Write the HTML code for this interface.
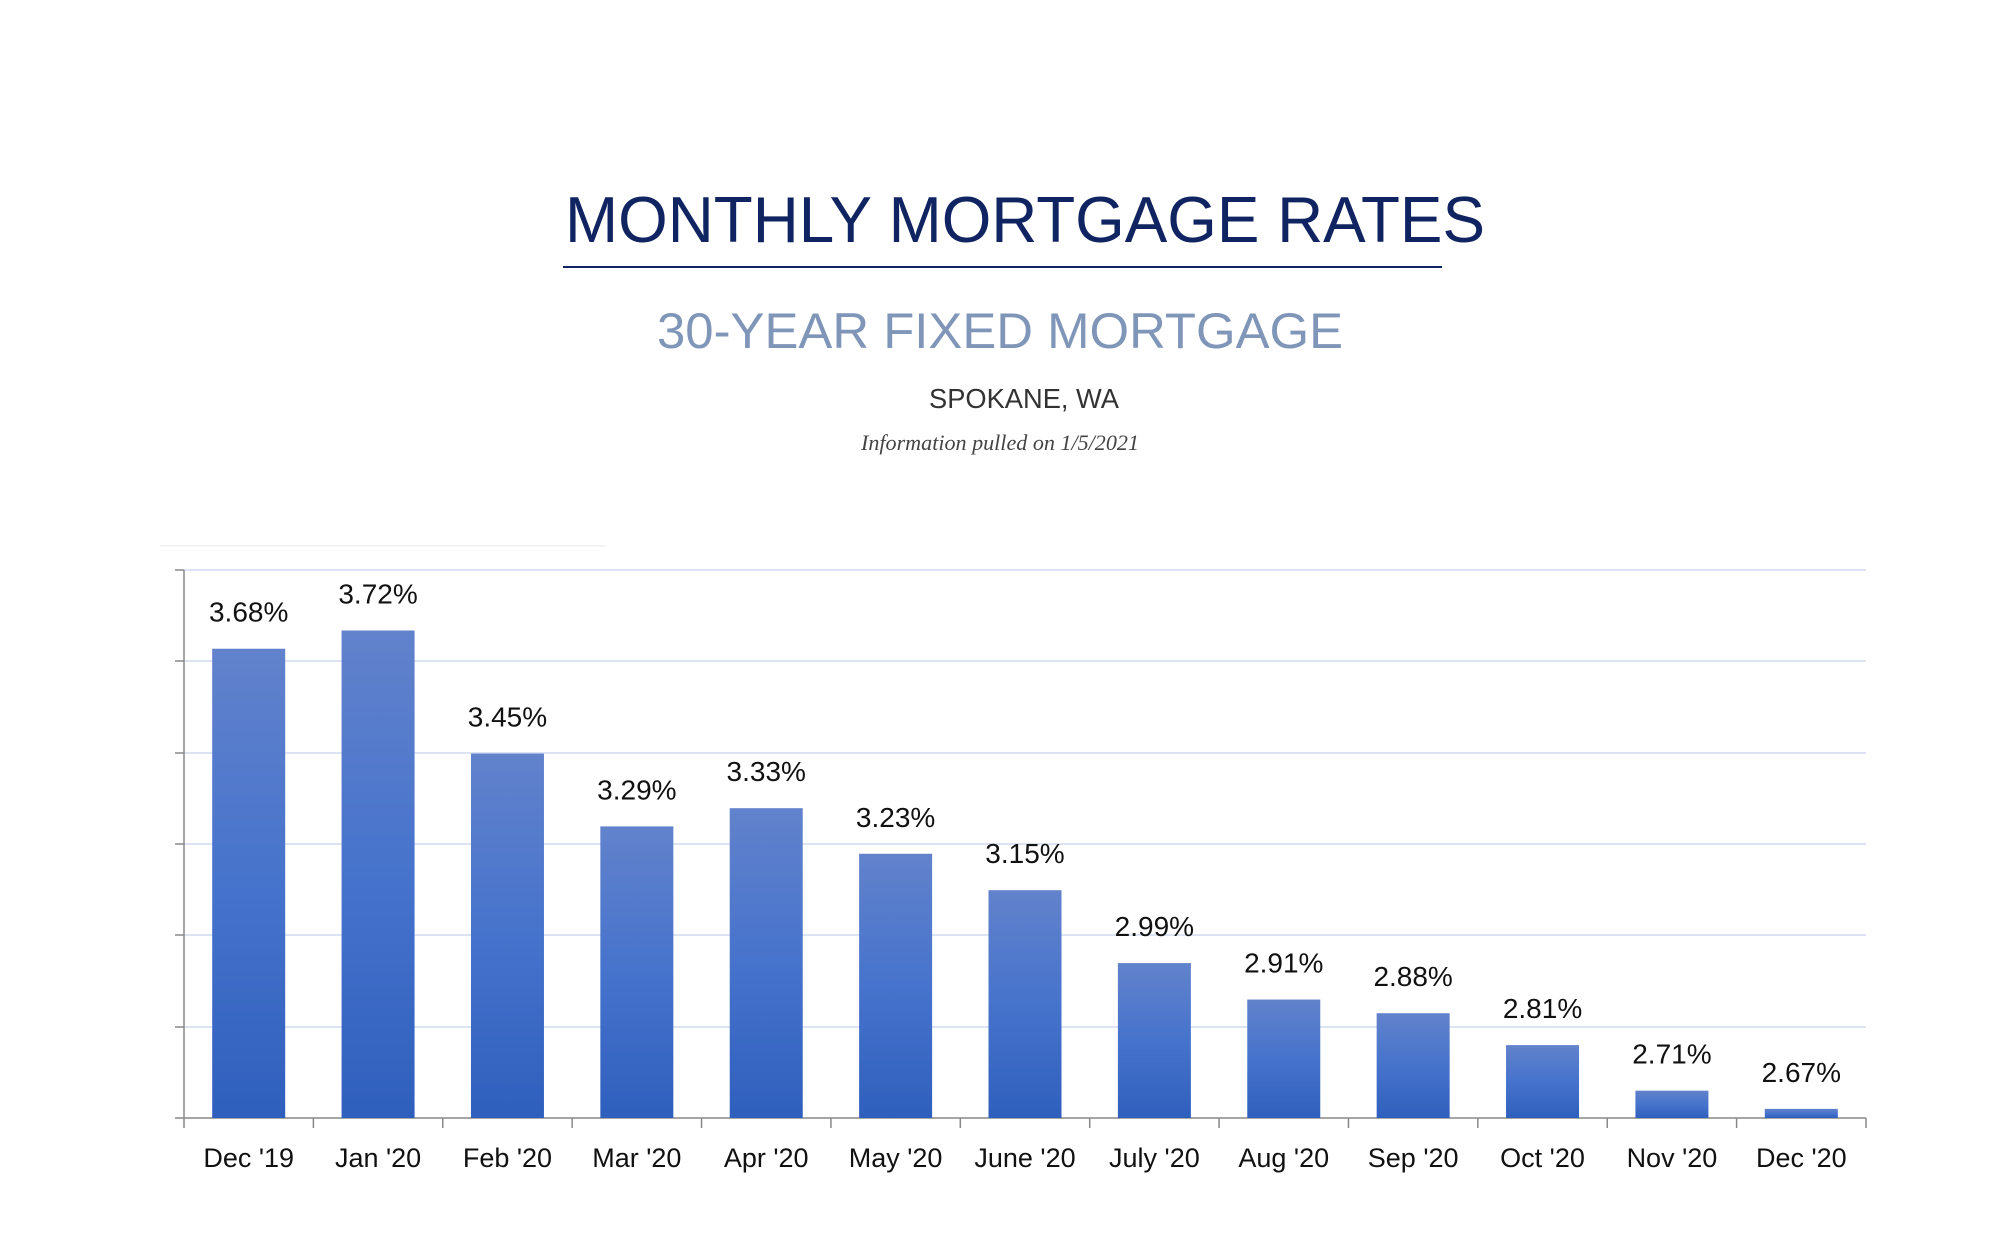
<!DOCTYPE html>
<html><head><meta charset="utf-8"><style>
html,body{margin:0;padding:0;background:#fff;}
svg{display:block;}
</style></head><body>
<svg width="2000" height="1250" viewBox="0 0 2000 1250" xmlns="http://www.w3.org/2000/svg">
<defs>
<linearGradient id="g" x1="0" y1="0" x2="0" y2="1">
<stop offset="0" stop-color="#6282cc"/>
<stop offset="0.5" stop-color="#4673cc"/>
<stop offset="1" stop-color="#2f5fbd"/>
</linearGradient>
</defs>
<text x="565" y="242" font-family="Liberation Sans, sans-serif" font-size="65" fill="#0f2461" textLength="920" lengthAdjust="spacingAndGlyphs">MONTHLY MORTGAGE RATES</text>
<rect x="563" y="266" width="879" height="2" fill="#0f2461"/>
<text x="657" y="348" font-family="Liberation Sans, sans-serif" font-size="50" fill="#7f96b8" textLength="686" lengthAdjust="spacingAndGlyphs">30-YEAR FIXED MORTGAGE</text>
<text x="929" y="408" font-family="Liberation Sans, sans-serif" font-size="28" fill="#333" textLength="190" lengthAdjust="spacingAndGlyphs">SPOKANE, WA</text>
<text x="861" y="450" font-family="Liberation Serif, serif" font-style="italic" font-size="22" fill="#444" textLength="278" lengthAdjust="spacingAndGlyphs">Information pulled on 1/5/2021</text>
<rect x="160" y="545" width="446" height="1.5" fill="#f0f0f0"/>
<g stroke="#dde3f3" stroke-width="2">
<line x1="184" y1="570" x2="1866" y2="570"/>
<line x1="184" y1="661" x2="1866" y2="661"/>
<line x1="184" y1="753" x2="1866" y2="753"/>
<line x1="184" y1="844" x2="1866" y2="844"/>
<line x1="184" y1="935" x2="1866" y2="935"/>
<line x1="184" y1="1027" x2="1866" y2="1027"/>
</g>
<g stroke="#888" stroke-width="1.5">
<line x1="184" y1="570" x2="184" y2="1118"/>
<line x1="175" y1="570" x2="184" y2="570"/>
<line x1="175" y1="661" x2="184" y2="661"/>
<line x1="175" y1="753" x2="184" y2="753"/>
<line x1="175" y1="844" x2="184" y2="844"/>
<line x1="175" y1="935" x2="184" y2="935"/>
<line x1="175" y1="1027" x2="184" y2="1027"/>
<line x1="175" y1="1118" x2="1866" y2="1118"/>
</g>
<g id="bars"></g>
</svg>
<script>
(function(){
var vals=[3.68,3.72,3.45,3.29,3.33,3.23,3.15,2.99,2.91,2.88,2.81,2.71,2.67];
var labs=["Dec '19","Jan '20","Feb '20","Mar '20","Apr '20","May '20","June '20","July '20","Aug '20","Sep '20","Oct '20","Nov '20","Dec '20"];
var g=document.getElementById('bars'),h="";
var w=1682/13;
for(var i=0;i<13;i++){
 var cx=184+w*(i+0.5);
 var ty=1118-(vals[i]-2.65)*455.6;
 h+='<rect x="'+(cx-36.5)+'" y="'+ty+'" width="73" height="'+(1118-ty)+'" fill="url(#g)"/>';
 h+='<text x="'+cx+'" y="'+(ty-27)+'" text-anchor="middle" font-family="Liberation Sans, sans-serif" font-size="28" fill="#111">'+vals[i].toFixed(2)+'%</text>';
 h+='<text x="'+cx+'" y="1167" text-anchor="middle" font-family="Liberation Sans, sans-serif" font-size="27" fill="#111">'+labs[i]+'</text>';
 var tx=184+w*(i+1);
 h+='<line x1="'+tx+'" y1="1118" x2="'+tx+'" y2="1128" stroke="#888" stroke-width="1.5"/>';
}
h+='<line x1="184" y1="1118" x2="184" y2="1128" stroke="#888" stroke-width="1.5"/>';
g.innerHTML=h;
})();
</script>
</body></html>
